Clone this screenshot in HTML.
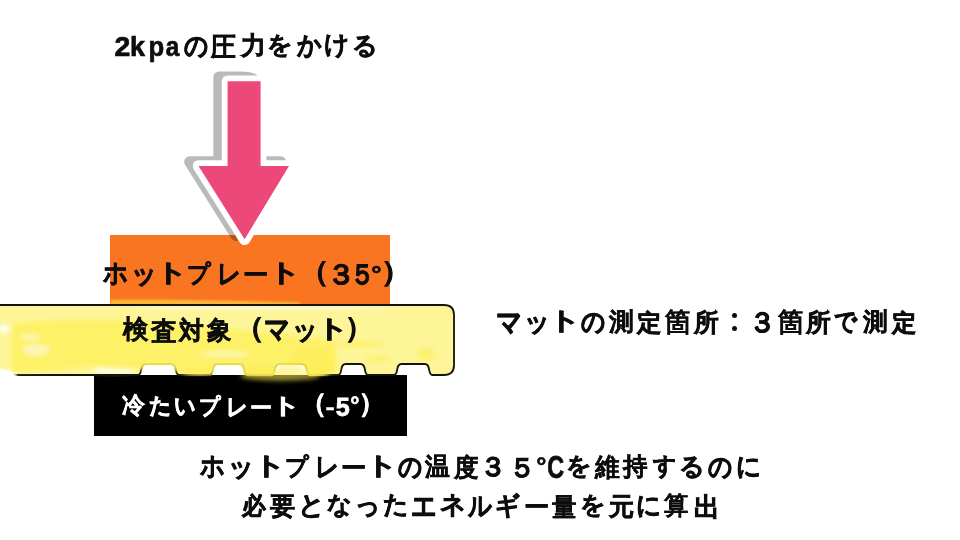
<!DOCTYPE html>
<html lang="ja">
<head>
<meta charset="utf-8">
<title>2kpaの圧力をかける</title>
<style>
*{margin:0;padding:0;box-sizing:border-box}
html,body{width:960px;height:540px;overflow:hidden;background:#fff}
body{position:relative;font-family:"Liberation Sans",sans-serif;font-weight:bold}
.ln{position:absolute;left:0;top:0;width:960px;height:540px;line-height:1;-webkit-text-stroke:0.7px currentColor}
.ln span{position:absolute;white-space:pre;line-height:1}
.ln .colon{color:transparent;-webkit-text-stroke:0;overflow:hidden;text-align:center;line-height:17px}
.ln .colon::before,.ln .colon::after{content:"";position:absolute;left:50%;width:var(--d);height:var(--d);margin-left:calc(var(--d) / -2);border-radius:50%;background:#0d0d0d}
.ln .colon::before{top:0}.ln .colon::after{bottom:0}
#orange{position:absolute;left:110px;top:235px;width:280px;height:69px;background:#f97521}
#black{position:absolute;left:93.5px;top:375px;width:313px;height:61px;background:#000}
svg{position:absolute;left:0;top:0}
</style>
</head>
<body>
<div id="orange"></div>
<div id="black"></div>
<svg width="960" height="540" viewBox="0 0 960 540">
  <defs>
    <path id="matp" d="M-5 305 H444 Q454 305 454 315 V365 Q454 375 444 375 H432.3 C429.8 375 429.5 372 429.1 369.5 C428.6 366 427.8 364 424.8 364 H401.5 C398.5 364 397.7 366 397.2 369.5 C396.8 372 396.5 375 394 375 H368.1 C365.6 375 365.3 372 364.9 369.5 C364.4 366 363.6 364 360.6 364 H345.6 C342.6 364 341.8 366 341.3 369.5 C340.9 372 340.6 375 338.1 375 H310 C307.5 375 307.2 372 306.8 369.5 C306.3 366 305.5 364 302.5 364 H278.9 C275.9 364 275.1 366 274.6 369.5 C274.2 372 273.9 375 271.4 375 H247.5 C245 375 244.7 372 244.3 369.5 C243.8 366 243 364 240 364 H217 C214 364 213.2 366 212.7 369.5 C212.3 372 212 375 209.5 375 H179 C176.5 375 176.2 372 175.8 369.5 C175.3 366 174.5 364 171.5 364 H145.5 C142.5 364 141.7 366 141.2 369.5 C140.8 372 140.5 375 138 375 H-5 Z"/>
    <filter id="bl" x="-30%" y="-60%" width="160%" height="220%"><feGaussianBlur stdDeviation="2.2"/></filter>
    <filter id="bl2" x="-30%" y="-60%" width="160%" height="220%"><feGaussianBlur stdDeviation="1.2"/></filter>
    <mask id="mm" maskUnits="userSpaceOnUse" x="-10" y="290" width="480" height="100"><use href="#matp" fill="#fff" stroke="#fff" stroke-width="2.4"/></mask>
  </defs>
  <!-- yellow tint over orange bottom / above top outline -->
  <path d="M110 300 C160 299.5 230 300.5 300 302.5 L300 305 L110 305 Z" fill="#fce64e" opacity="0.6" filter="url(#bl2)"/>
  <use href="#matp" fill="#fdf598"/>
  <g mask="url(#mm)"><g filter="url(#bl)">
    <ellipse cx="115" cy="370" rx="22" ry="5" fill="#fefbe0"/>
    <ellipse cx="260" cy="308" rx="130" ry="2" fill="#fefbd8"/>
  </g></g>
  <use href="#matp" fill="none" stroke="#15140a" stroke-width="1.8"/>
  <!-- brush strokes -->
  <g mask="url(#mm)" opacity="0.9"><g filter="url(#bl)">
    <path d="M12 324 C50 319 120 318 190 325 C250 331 300 336 335 341 L338 372 C250 374 150 372 95 366 C60 370 30 372 12 372 Z" fill="#fef162"/>
    <ellipse cx="312" cy="364" rx="22" ry="16" fill="#fdee55"/>
    <ellipse cx="262" cy="372" rx="30" ry="6" fill="#fdee55"/>
    <ellipse cx="200" cy="372" rx="18" ry="4" fill="#fdee55"/>
    <ellipse cx="360" cy="344" rx="26" ry="3" fill="#fdf06a"/>
    <ellipse cx="378" cy="359" rx="13" ry="3" fill="#fdf06a"/>
    <ellipse cx="426" cy="354" rx="9" ry="6" fill="#fdf06a"/>
    <ellipse cx="36" cy="350" rx="14" ry="6" fill="#fdf6b4"/>
    <ellipse cx="30" cy="337" rx="10" ry="3" fill="#fdf6b4"/>
    <ellipse cx="225" cy="354" rx="25" ry="3" fill="#fdf6b0"/>
    <ellipse cx="4" cy="329" rx="6" ry="4" fill="#ffffff"/>
  </g></g>
  <path d="M-5 369 C5 368.5 12 370 17 375.5 L17 385 L-5 385 Z" fill="#fff" filter="url(#bl2)"/>
  <!-- yellow overflow over black -->
  <g filter="url(#bl)" opacity="0.55">
    <ellipse cx="280" cy="376" rx="40" ry="5" fill="#fdee55"/>
    <ellipse cx="290" cy="370" rx="14" ry="5" fill="#fdee55"/>
  </g>
  <!-- arrow -->
  <g>
    <path d="M213.3 77.2 A5.8 5.8 0 0 1 219.1 71.4 L240 71.4 Q255 71.7 258.4 76.4 L257.9 156.2 L280.5 156.2 A5.8 5.8 0 0 1 285.46 165.01 L241.06 238.21 A5.8 5.8 0 0 1 231.19 238.29 L185.09 165.09 A5.8 5.8 0 0 1 190 156.2 L213.3 156.2 Z" fill="#000" opacity="0.27"/>
    <path d="M227.6 81.2 H260.6 V166 H289 L244.6 239.2 L198.5 166 H227.6 Z" fill="#ec497a" stroke="#fff" stroke-width="11.6" stroke-linejoin="round" paint-order="stroke"/>
  </g>
</svg>

<div class="ln" id="title" style="font-size:27px;color:#0d0d0d"><span style="left:114.91px;top:33.62px;transform:scale(1.053,1.040);transform-origin:7.49px 12.52px;">2</span><span style="left:130.36px;top:33.46px;transform:scale(0.997,1.054);transform-origin:8.44px 12.00px;">k</span><span style="left:148.30px;top:34.03px;transform:scale(0.950,0.992);transform-origin:8.75px 17.50px;">p</span><span style="left:164.84px;top:34.18px;transform:scale(0.897,1.013);transform-origin:8.06px 14.52px;">a</span><span style="left:181.88px;top:32.52px;transform:scale(0.886,1.003);transform-origin:13.48px 14.43px;">の</span><span style="left:210.43px;top:34.14px;transform:scale(0.903,0.986);transform-origin:13.00px 12.53px;-webkit-text-stroke-width:0.45px;">圧</span><span style="left:240.11px;top:33.45px;transform:scale(0.927,0.931);transform-origin:11.38px 12.55px;">力</span><span style="left:266.19px;top:31.96px;transform:scale(0.935,0.898);transform-origin:13.64px 14.18px;">を</span><span style="left:295.22px;top:31.60px;transform:scale(0.886,0.949);transform-origin:13.62px 14.40px;">か</span><span style="left:323.34px;top:31.69px;transform:scale(0.908,0.918);transform-origin:13.29px 14.85px;">け</span><span style="left:351.24px;top:32.68px;transform:scale(0.942,0.934);transform-origin:13.06px 13.86px;">る</span></div>
<div class="ln" id="hot" style="font-size:27px;color:#0d0d0d"><span style="left:101.63px;top:260.20px;transform:scale(0.898,0.987);transform-origin:13.20px 13.99px;">ホ</span><span style="left:129.80px;top:260.79px;transform:scale(0.959,1.011);transform-origin:13.46px 16.77px;">ッ</span><span style="left:158.01px;top:260.13px;transform:scale(1.200,0.919);transform-origin:15.28px 14.06px;">ト</span><span style="left:185.27px;top:261.22px;transform:scale(0.868,0.902);transform-origin:15.09px 12.29px;">プ</span><span style="left:215.02px;top:261.15px;transform:scale(0.888,1.010);transform-origin:14.04px 13.44px;">レ</span><span style="left:241.89px;top:262.24px;transform:scale(0.923,0.871);transform-origin:13.56px 11.67px;">ー</span><span style="left:270.61px;top:260.13px;transform:scale(1.200,0.919);transform-origin:15.28px 14.06px;">ト</span><span style="left:301.09px;top:259.01px;transform:scale(1.068,1.037);transform-origin:20.41px 15.14px;">（</span><span style="left:326.66px;top:261.94px;transform:scale(1.035,1.026);transform-origin:13.54px 12.71px;">３</span><span style="left:349.41px;top:261.78px;transform:scale(0.912,1.042);transform-origin:13.54px 12.87px;">５</span><span style="left:371.29px;top:261.55px;transform:scale(0.955,0.843);transform-origin:5.48px 6.50px;">°</span><span style="left:381.61px;top:259.01px;transform:scale(1.126,1.037);transform-origin:6.64px 15.14px;">）</span></div>
<div class="ln" id="matt" style="font-size:27px;color:#0d0d0d"><span style="left:121.80px;top:317.30px;transform:scale(0.919,0.944);transform-origin:13.19px 12.69px;-webkit-text-stroke-width:0.45px;">検</span><span style="left:150.10px;top:317.58px;transform:scale(0.943,0.955);transform-origin:12.93px 12.00px;-webkit-text-stroke-width:0.45px;">査</span><span style="left:178.10px;top:317.78px;transform:scale(0.910,0.920);transform-origin:12.96px 12.07px;">対</span><span style="left:205.98px;top:317.02px;transform:scale(0.897,0.958);transform-origin:13.39px 12.83px;-webkit-text-stroke-width:0.45px;">象</span><span style="left:236.94px;top:315.46px;transform:scale(1.081,1.033);transform-origin:20.41px 15.14px;">（</span><span style="left:262.86px;top:317.45px;transform:scale(0.954,1.151);transform-origin:13.39px 14.02px;">マ</span><span style="left:290.83px;top:316.59px;transform:scale(0.959,1.011);transform-origin:13.46px 16.77px;">ッ</span><span style="left:319.06px;top:315.93px;transform:scale(1.200,0.919);transform-origin:15.28px 14.06px;">ト</span><span style="left:345.34px;top:314.71px;transform:scale(1.037,1.046);transform-origin:6.64px 15.14px;">）</span></div>
<div class="ln" id="cold" style="font-size:24.6px;color:#ffffff"><span style="left:121.47px;top:394.47px;transform:scale(0.911,0.920);transform-origin:12.71px 11.76px;-webkit-text-stroke-width:0.45px;">冷</span><span style="left:147.54px;top:393.73px;transform:scale(0.897,0.901);transform-origin:12.04px 12.50px;">た</span><span style="left:172.48px;top:394.39px;transform:scale(0.875,0.992);transform-origin:12.99px 12.70px;">い</span><span style="left:197.38px;top:394.74px;transform:scale(0.849,0.885);transform-origin:13.99px 11.00px;">プ</span><span style="left:224.27px;top:394.60px;transform:scale(0.884,0.982);transform-origin:12.99px 12.12px;">レ</span><span style="left:248.51px;top:395.61px;transform:scale(0.905,0.858);transform-origin:12.55px 10.50px;">ー</span><span style="left:274.24px;top:393.80px;transform:scale(1.186,0.892);transform-origin:14.31px 12.55px;">ト</span><span style="left:301.76px;top:392.40px;transform:scale(1.048,1.070);transform-origin:18.94px 13.50px;">（</span><span style="left:326.32px;top:394.70px;transform:scale(1.057,0.800);transform-origin:4.13px 13.50px;">-</span><span style="left:335.50px;top:394.95px;transform:scale(1.024,1.080);transform-origin:7.00px 11.50px;">5</span><span style="left:349.80px;top:392.75px;transform:scale(0.938,0.997);transform-origin:5.00px 7.15px;">°</span><span style="left:359.23px;top:392.40px;transform:scale(1.046,1.070);transform-origin:6.17px 13.50px;">）</span></div>
<div class="ln" id="right" style="font-size:27px;color:#0d0d0d"><span style="left:495.12px;top:309.75px;transform:scale(0.954,1.151);transform-origin:13.39px 14.02px;">マ</span><span style="left:523.16px;top:308.89px;transform:scale(0.959,1.011);transform-origin:13.46px 16.77px;">ッ</span><span style="left:551.46px;top:308.23px;transform:scale(1.200,0.919);transform-origin:15.28px 14.06px;">ト</span><span style="left:579.07px;top:308.67px;transform:scale(0.886,1.003);transform-origin:13.48px 14.43px;">の</span><span style="left:607.50px;top:309.27px;transform:scale(0.904,0.921);transform-origin:12.89px 12.88px;-webkit-text-stroke-width:0.45px;">測</span><span style="left:636.35px;top:309.73px;transform:scale(0.912,0.904);transform-origin:12.68px 12.42px;">定</span><span style="left:663.89px;top:309.31px;transform:scale(0.918,0.947);transform-origin:13.39px 12.71px;-webkit-text-stroke-width:0.2px;">箇</span><span style="left:692.53px;top:309.79px;transform:scale(0.912,0.922);transform-origin:12.99px 12.50px;">所</span><span class="colon" style="left:720.75px;top:312.80px;width:27px;height:18.70px;--d:5.50px">：</span><span style="left:748.56px;top:309.74px;transform:scale(0.972,1.026);transform-origin:13.54px 12.71px;">３</span><span style="left:776.85px;top:309.31px;transform:scale(0.918,0.947);transform-origin:13.39px 12.71px;-webkit-text-stroke-width:0.2px;">箇</span><span style="left:805.49px;top:309.79px;transform:scale(0.912,0.922);transform-origin:12.99px 12.50px;">所</span><span style="left:832.38px;top:308.60px;transform:scale(0.829,0.915);transform-origin:14.47px 14.36px;">で</span><span style="left:861.66px;top:309.27px;transform:scale(0.904,0.921);transform-origin:12.89px 12.88px;-webkit-text-stroke-width:0.45px;">測</span><span style="left:890.51px;top:309.73px;transform:scale(0.912,0.904);transform-origin:12.68px 12.42px;">定</span></div>
<div class="ln" id="l1" style="font-size:27px;color:#0d0d0d"><span style="left:199.01px;top:453.20px;transform:scale(0.898,0.987);transform-origin:13.20px 13.99px;">ホ</span><span style="left:227.24px;top:453.79px;transform:scale(0.959,1.011);transform-origin:13.46px 16.77px;">ッ</span><span style="left:255.51px;top:453.13px;transform:scale(1.200,0.919);transform-origin:15.28px 14.06px;">ト</span><span style="left:282.83px;top:454.22px;transform:scale(0.868,0.902);transform-origin:15.09px 12.29px;">プ</span><span style="left:312.64px;top:454.15px;transform:scale(0.888,1.010);transform-origin:14.04px 13.44px;">レ</span><span style="left:339.57px;top:455.24px;transform:scale(0.923,0.871);transform-origin:13.56px 11.67px;">ー</span><span style="left:368.35px;top:453.13px;transform:scale(1.200,0.919);transform-origin:15.28px 14.06px;">ト</span><span style="left:395.93px;top:453.57px;transform:scale(0.886,1.003);transform-origin:13.48px 14.43px;">の</span><span style="left:424.49px;top:454.07px;transform:scale(0.919,0.926);transform-origin:13.27px 12.84px;-webkit-text-stroke-width:0.45px;">温</span><span style="left:452.82px;top:455.00px;transform:scale(0.910,0.930);transform-origin:13.01px 12.19px;-webkit-text-stroke-width:0.45px;">度</span><span style="left:480.24px;top:454.47px;transform:scale(0.972,1.011);transform-origin:13.54px 12.71px;">３</span><span style="left:508.58px;top:454.58px;transform:scale(0.978,1.000);transform-origin:13.54px 12.87px;">５</span><span style="left:536.22px;top:453.90px;transform:scale(0.939,0.896);transform-origin:5.48px 6.50px;">°</span><span style="left:546.01px;top:454.68px;transform:scale(0.864,1.130);transform-origin:9.94px 12.52px;">C</span><span style="left:564.90px;top:453.01px;transform:scale(0.935,0.898);transform-origin:13.64px 14.18px;">を</span><span style="left:593.88px;top:454.32px;transform:scale(0.908,0.950);transform-origin:13.00px 12.73px;-webkit-text-stroke-width:0.2px;">維</span><span style="left:622.15px;top:454.19px;transform:scale(0.904,0.922);transform-origin:12.94px 12.86px;-webkit-text-stroke-width:0.45px;">持</span><span style="left:650.84px;top:453.12px;transform:scale(0.852,0.895);transform-origin:12.87px 14.33px;">す</span><span style="left:678.19px;top:453.73px;transform:scale(0.942,0.934);transform-origin:13.06px 13.86px;">る</span><span style="left:706.24px;top:453.57px;transform:scale(0.886,1.003);transform-origin:13.48px 14.43px;">の</span><span style="left:734.61px;top:453.05px;transform:scale(0.924,0.978);transform-origin:13.60px 14.41px;">に</span></div>
<div class="ln" id="l2" style="font-size:27px;color:#0d0d0d"><span style="left:240.92px;top:493.43px;transform:scale(0.894,0.905);transform-origin:13.71px 12.48px;">必</span><span style="left:269.43px;top:493.12px;transform:scale(0.915,0.946);transform-origin:13.23px 13.34px;-webkit-text-stroke-width:0.45px;">要</span><span style="left:298.12px;top:491.92px;transform:scale(0.971,0.957);transform-origin:13.12px 14.26px;">と</span><span style="left:326.27px;top:491.77px;transform:scale(0.910,0.898);transform-origin:13.00px 14.41px;">な</span><span style="left:354.05px;top:491.92px;transform:scale(0.910,0.990);transform-origin:13.39px 17.77px;">っ</span><span style="left:382.46px;top:492.11px;transform:scale(0.912,0.915);transform-origin:13.01px 13.94px;">た</span><span style="left:409.99px;top:492.73px;transform:scale(0.922,1.094);transform-origin:13.52px 13.86px;">エ</span><span style="left:439.19px;top:492.18px;transform:scale(0.946,0.938);transform-origin:12.63px 13.87px;">ネ</span><span style="left:466.11px;top:492.95px;transform:scale(0.882,1.018);transform-origin:13.87px 13.77px;">ル</span><span style="left:493.88px;top:492.67px;transform:scale(0.910,0.934);transform-origin:14.68px 12.98px;">ギ</span><span style="left:522.63px;top:494.24px;transform:scale(0.923,0.871);transform-origin:13.56px 11.67px;">ー</span><span style="left:551.14px;top:493.78px;transform:scale(0.914,0.969);transform-origin:13.22px 12.40px;-webkit-text-stroke-width:0.2px;">量</span><span style="left:578.62px;top:492.01px;transform:scale(0.935,0.898);transform-origin:13.64px 14.18px;">を</span><span style="left:608.07px;top:494.05px;transform:scale(0.908,0.907);transform-origin:12.77px 12.95px;">元</span><span style="left:635.41px;top:492.05px;transform:scale(0.924,0.978);transform-origin:13.60px 14.41px;">に</span><span style="left:663.37px;top:493.09px;transform:scale(0.910,0.938);transform-origin:13.26px 12.83px;-webkit-text-stroke-width:0.2px;">算</span><span style="left:692.92px;top:494.03px;transform:scale(0.942,0.955);transform-origin:12.29px 12.15px;">出</span></div>
</body>
</html>
